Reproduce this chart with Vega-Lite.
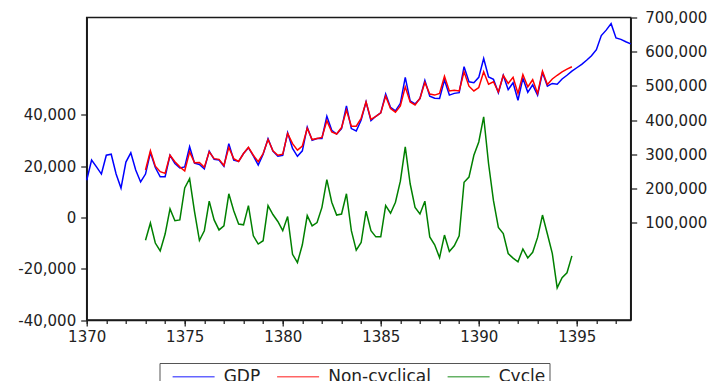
{
"$schema": "https://vega.github.io/schema/vega-lite/v6.json",
"width": 544, "height": 302.5,
"autosize": "none",
"padding": {"left": 86.7, "top": 17.5, "right": 81.3, "bottom": 61},
"background": "white",
"config": {
 "view": {"stroke": "#1a1a1a", "strokeWidth": 1.5},
 "axis": {"labelFont": "DejaVu Sans", "labelFontSize": 15, "labelColor": "#222", "domainColor": "#1a1a1a", "tickColor": "#1a1a1a", "domainWidth": 1.5, "tickWidth": 1.2, "grid": false, "title": null, "labelFlush": false, "labelOverlap": false},
 "legend": {"orient": "none", "legendX": 72.8, "legendY": 345.5, "direction": "horizontal", "symbolType": "M-2.5,0H2.5", "symbolSize": 282, "symbolStrokeWidth": 1.6, "symbolOpacity": 0.6, "symbolOffset": 20.6, "labelOffset": 20.6, "labelFont": "DejaVu Sans", "labelFontSize": 17, "labelColor": "#222", "strokeColor": "#555", "fillColor": "white", "padding": 4, "columnPadding": 7.5, "title": null}
},
"data": {"values": [
{"t":1370,"s":"GDP","v":224000},{"t":1370.25,"s":"GDP","v":283000},{"t":1370.5,"s":"GDP","v":263000},{"t":1370.75,"s":"GDP","v":242000},
{"t":1371,"s":"GDP","v":297000},{"t":1371.25,"s":"GDP","v":300000},{"t":1371.5,"s":"GDP","v":242000},{"t":1371.75,"s":"GDP","v":201000},
{"t":1372,"s":"GDP","v":277000},{"t":1372.25,"s":"GDP","v":304000},{"t":1372.5,"s":"GDP","v":254000},{"t":1372.75,"s":"GDP","v":219000},
{"t":1373,"s":"GDP","v":242000},{"t":1373.25,"s":"GDP","v":305000},{"t":1373.5,"s":"GDP","v":261000},{"t":1373.75,"s":"GDP","v":234000},
{"t":1374,"s":"GDP","v":234000},{"t":1374.25,"s":"GDP","v":297000},{"t":1374.5,"s":"GDP","v":273000},{"t":1374.75,"s":"GDP","v":260000},
{"t":1375,"s":"GDP","v":263000},{"t":1375.25,"s":"GDP","v":322000},{"t":1375.5,"s":"GDP","v":274000},{"t":1375.75,"s":"GDP","v":270000},
{"t":1376,"s":"GDP","v":257000},{"t":1376.25,"s":"GDP","v":309000},{"t":1376.5,"s":"GDP","v":285000},{"t":1376.75,"s":"GDP","v":283000},
{"t":1377,"s":"GDP","v":265000},{"t":1377.25,"s":"GDP","v":331000},{"t":1377.5,"s":"GDP","v":283000},{"t":1377.75,"s":"GDP","v":279000},
{"t":1378,"s":"GDP","v":302000},{"t":1378.25,"s":"GDP","v":319000},{"t":1378.5,"s":"GDP","v":295000},{"t":1378.75,"s":"GDP","v":268000},
{"t":1379,"s":"GDP","v":300000},{"t":1379.25,"s":"GDP","v":345000},{"t":1379.5,"s":"GDP","v":309000},{"t":1379.75,"s":"GDP","v":294000},
{"t":1380,"s":"GDP","v":297000},{"t":1380.25,"s":"GDP","v":363000},{"t":1380.5,"s":"GDP","v":317000},{"t":1380.75,"s":"GDP","v":294000},
{"t":1381,"s":"GDP","v":310000},{"t":1381.25,"s":"GDP","v":379000},{"t":1381.5,"s":"GDP","v":341000},{"t":1381.75,"s":"GDP","v":346000},
{"t":1382,"s":"GDP","v":346000},{"t":1382.25,"s":"GDP","v":411000},{"t":1382.5,"s":"GDP","v":370000},{"t":1382.75,"s":"GDP","v":359000},
{"t":1383,"s":"GDP","v":375000},{"t":1383.25,"s":"GDP","v":441000},{"t":1383.5,"s":"GDP","v":375000},{"t":1383.75,"s":"GDP","v":368000},
{"t":1384,"s":"GDP","v":400000},{"t":1384.25,"s":"GDP","v":453000},{"t":1384.5,"s":"GDP","v":398000},{"t":1384.75,"s":"GDP","v":411000},
{"t":1385,"s":"GDP","v":421000},{"t":1385.25,"s":"GDP","v":476000},{"t":1385.5,"s":"GDP","v":437000},{"t":1385.75,"s":"GDP","v":427000},
{"t":1386,"s":"GDP","v":449000},{"t":1386.25,"s":"GDP","v":525000},{"t":1386.5,"s":"GDP","v":456000},{"t":1386.75,"s":"GDP","v":447000},
{"t":1387,"s":"GDP","v":463000},{"t":1387.25,"s":"GDP","v":516000},{"t":1387.5,"s":"GDP","v":470000},{"t":1387.75,"s":"GDP","v":464000},
{"t":1388,"s":"GDP","v":463000},{"t":1388.25,"s":"GDP","v":517000},{"t":1388.5,"s":"GDP","v":473000},{"t":1388.75,"s":"GDP","v":478000},
{"t":1389,"s":"GDP","v":480000},{"t":1389.25,"s":"GDP","v":556000},{"t":1389.5,"s":"GDP","v":512000},{"t":1389.75,"s":"GDP","v":509000},
{"t":1390,"s":"GDP","v":525000},{"t":1390.25,"s":"GDP","v":580000},{"t":1390.5,"s":"GDP","v":526000},{"t":1390.75,"s":"GDP","v":519000},
{"t":1391,"s":"GDP","v":480000},{"t":1391.25,"s":"GDP","v":531000},{"t":1391.5,"s":"GDP","v":489000},{"t":1391.75,"s":"GDP","v":509000},
{"t":1392,"s":"GDP","v":458000},{"t":1392.25,"s":"GDP","v":522000},{"t":1392.5,"s":"GDP","v":481000},{"t":1392.75,"s":"GDP","v":503000},
{"t":1393,"s":"GDP","v":473000},{"t":1393.25,"s":"GDP","v":539000},{"t":1393.5,"s":"GDP","v":499000},{"t":1393.75,"s":"GDP","v":507000},
{"t":1394,"s":"GDP","v":505000},{"t":1394.25,"s":"GDP","v":520000},{"t":1394.5,"s":"GDP","v":531000},{"t":1394.75,"s":"GDP","v":543000},
{"t":1395,"s":"GDP","v":553000},{"t":1395.25,"s":"GDP","v":563000},{"t":1395.5,"s":"GDP","v":575000},{"t":1395.75,"s":"GDP","v":588000},
{"t":1396,"s":"GDP","v":606000},{"t":1396.25,"s":"GDP","v":647000},{"t":1396.5,"s":"GDP","v":663000},{"t":1396.75,"s":"GDP","v":682000},
{"t":1397,"s":"GDP","v":640000},{"t":1397.25,"s":"GDP","v":636000},{"t":1397.5,"s":"GDP","v":629000},{"t":1397.75,"s":"GDP","v":623000},
{"t":1373,"s":"Non-cyclical","v":254000},{"t":1373.25,"s":"Non-cyclical","v":310000},{"t":1373.5,"s":"Non-cyclical","v":265000},{"t":1373.75,"s":"Non-cyclical","v":249000},
{"t":1374,"s":"Non-cyclical","v":244000},{"t":1374.25,"s":"Non-cyclical","v":297000},{"t":1374.5,"s":"Non-cyclical","v":278000},{"t":1374.75,"s":"Non-cyclical","v":263000},
{"t":1375,"s":"Non-cyclical","v":251000},{"t":1375.25,"s":"Non-cyclical","v":307000},{"t":1375.5,"s":"Non-cyclical","v":275000},{"t":1375.75,"s":"Non-cyclical","v":276000},
{"t":1376,"s":"Non-cyclical","v":262000},{"t":1376.25,"s":"Non-cyclical","v":307000},{"t":1376.5,"s":"Non-cyclical","v":287000},{"t":1376.75,"s":"Non-cyclical","v":285000},
{"t":1377,"s":"Non-cyclical","v":267000},{"t":1377.25,"s":"Non-cyclical","v":320000},{"t":1377.5,"s":"Non-cyclical","v":287000},{"t":1377.75,"s":"Non-cyclical","v":279000},
{"t":1378,"s":"Non-cyclical","v":302000},{"t":1378.25,"s":"Non-cyclical","v":320000},{"t":1378.5,"s":"Non-cyclical","v":297000},{"t":1378.75,"s":"Non-cyclical","v":278000},
{"t":1379,"s":"Non-cyclical","v":302000},{"t":1379.25,"s":"Non-cyclical","v":343000},{"t":1379.5,"s":"Non-cyclical","v":310000},{"t":1379.75,"s":"Non-cyclical","v":297000},
{"t":1380,"s":"Non-cyclical","v":300000},{"t":1380.25,"s":"Non-cyclical","v":361000},{"t":1380.5,"s":"Non-cyclical","v":331000},{"t":1380.75,"s":"Non-cyclical","v":312000},
{"t":1381,"s":"Non-cyclical","v":324000},{"t":1381.25,"s":"Non-cyclical","v":376000},{"t":1381.5,"s":"Non-cyclical","v":343000},{"t":1381.75,"s":"Non-cyclical","v":346000},
{"t":1382,"s":"Non-cyclical","v":349000},{"t":1382.25,"s":"Non-cyclical","v":398000},{"t":1382.5,"s":"Non-cyclical","v":365000},{"t":1382.75,"s":"Non-cyclical","v":359000},
{"t":1383,"s":"Non-cyclical","v":378000},{"t":1383.25,"s":"Non-cyclical","v":429000},{"t":1383.5,"s":"Non-cyclical","v":382000},{"t":1383.75,"s":"Non-cyclical","v":382000},
{"t":1384,"s":"Non-cyclical","v":405000},{"t":1384.25,"s":"Non-cyclical","v":453000},{"t":1384.5,"s":"Non-cyclical","v":402000},{"t":1384.75,"s":"Non-cyclical","v":411000},
{"t":1385,"s":"Non-cyclical","v":421000},{"t":1385.25,"s":"Non-cyclical","v":470000},{"t":1385.5,"s":"Non-cyclical","v":434000},{"t":1385.75,"s":"Non-cyclical","v":423000},
{"t":1386,"s":"Non-cyclical","v":441000},{"t":1386.25,"s":"Non-cyclical","v":497000},{"t":1386.5,"s":"Non-cyclical","v":453000},{"t":1386.75,"s":"Non-cyclical","v":444000},
{"t":1387,"s":"Non-cyclical","v":463000},{"t":1387.25,"s":"Non-cyclical","v":510000},{"t":1387.5,"s":"Non-cyclical","v":476000},{"t":1387.75,"s":"Non-cyclical","v":473000},
{"t":1388,"s":"Non-cyclical","v":478000},{"t":1388.25,"s":"Non-cyclical","v":528000},{"t":1388.5,"s":"Non-cyclical","v":485000},{"t":1388.75,"s":"Non-cyclical","v":487000},
{"t":1389,"s":"Non-cyclical","v":485000},{"t":1389.25,"s":"Non-cyclical","v":541000},{"t":1389.5,"s":"Non-cyclical","v":499000},{"t":1389.75,"s":"Non-cyclical","v":485000},
{"t":1390,"s":"Non-cyclical","v":495000},{"t":1390.25,"s":"Non-cyclical","v":541000},{"t":1390.5,"s":"Non-cyclical","v":505000},{"t":1390.75,"s":"Non-cyclical","v":512000},
{"t":1391,"s":"Non-cyclical","v":482000},{"t":1391.25,"s":"Non-cyclical","v":531000},{"t":1391.5,"s":"Non-cyclical","v":507000},{"t":1391.75,"s":"Non-cyclical","v":525000},
{"t":1392,"s":"Non-cyclical","v":478000},{"t":1392.25,"s":"Non-cyclical","v":533000},{"t":1392.5,"s":"Non-cyclical","v":497000},{"t":1392.75,"s":"Non-cyclical","v":518000},
{"t":1393,"s":"Non-cyclical","v":478000},{"t":1393.25,"s":"Non-cyclical","v":543000},{"t":1393.5,"s":"Non-cyclical","v":504000},{"t":1393.75,"s":"Non-cyclical","v":520000},
{"t":1394,"s":"Non-cyclical","v":531000},{"t":1394.25,"s":"Non-cyclical","v":541000},{"t":1394.5,"s":"Non-cyclical","v":549000},{"t":1394.75,"s":"Non-cyclical","v":556000},
{"t":1373,"s":"Cycle","v":-8900},{"t":1373.25,"s":"Cycle","v":-2200},{"t":1373.5,"s":"Cycle","v":-10000},{"t":1373.75,"s":"Cycle","v":-13100},
{"t":1374,"s":"Cycle","v":-6500},{"t":1374.25,"s":"Cycle","v":3300},{"t":1374.5,"s":"Cycle","v":-1300},{"t":1374.75,"s":"Cycle","v":-1000},
{"t":1375,"s":"Cycle","v":11500},{"t":1375.25,"s":"Cycle","v":15100},{"t":1375.5,"s":"Cycle","v":2200},{"t":1375.75,"s":"Cycle","v":-9000},
{"t":1376,"s":"Cycle","v":-5200},{"t":1376.25,"s":"Cycle","v":6300},{"t":1376.5,"s":"Cycle","v":-1000},{"t":1376.75,"s":"Cycle","v":-4900},
{"t":1377,"s":"Cycle","v":-3300},{"t":1377.25,"s":"Cycle","v":9200},{"t":1377.5,"s":"Cycle","v":2600},{"t":1377.75,"s":"Cycle","v":-2600},
{"t":1378,"s":"Cycle","v":-2900},{"t":1378.25,"s":"Cycle","v":4600},{"t":1378.5,"s":"Cycle","v":-7200},{"t":1378.75,"s":"Cycle","v":-10400},
{"t":1379,"s":"Cycle","v":-9100},{"t":1379.25,"s":"Cycle","v":4600},{"t":1379.5,"s":"Cycle","v":1100},{"t":1379.75,"s":"Cycle","v":-1600},
{"t":1380,"s":"Cycle","v":-5200},{"t":1380.25,"s":"Cycle","v":300},{"t":1380.5,"s":"Cycle","v":-14400},{"t":1380.75,"s":"Cycle","v":-17600},
{"t":1381,"s":"Cycle","v":-10700},{"t":1381.25,"s":"Cycle","v":700},{"t":1381.5,"s":"Cycle","v":-3300},{"t":1381.75,"s":"Cycle","v":-2000},
{"t":1382,"s":"Cycle","v":3900},{"t":1382.25,"s":"Cycle","v":14700},{"t":1382.5,"s":"Cycle","v":5900},{"t":1382.75,"s":"Cycle","v":900},
{"t":1383,"s":"Cycle","v":1300},{"t":1383.25,"s":"Cycle","v":9200},{"t":1383.5,"s":"Cycle","v":-5200},{"t":1383.75,"s":"Cycle","v":-12800},
{"t":1384,"s":"Cycle","v":-9800},{"t":1384.25,"s":"Cycle","v":2400},{"t":1384.5,"s":"Cycle","v":-5200},{"t":1384.75,"s":"Cycle","v":-7600},
{"t":1385,"s":"Cycle","v":-7600},{"t":1385.25,"s":"Cycle","v":4600},{"t":1385.5,"s":"Cycle","v":1600},{"t":1385.75,"s":"Cycle","v":5900},
{"t":1386,"s":"Cycle","v":14100},{"t":1386.25,"s":"Cycle","v":27500},{"t":1386.5,"s":"Cycle","v":13100},{"t":1386.75,"s":"Cycle","v":3900},
{"t":1387,"s":"Cycle","v":1300},{"t":1387.25,"s":"Cycle","v":6300},{"t":1387.5,"s":"Cycle","v":-7600},{"t":1387.75,"s":"Cycle","v":-10700},
{"t":1388,"s":"Cycle","v":-15700},{"t":1388.25,"s":"Cycle","v":-6900},{"t":1388.5,"s":"Cycle","v":-13300},{"t":1388.75,"s":"Cycle","v":-11100},
{"t":1389,"s":"Cycle","v":-7200},{"t":1389.25,"s":"Cycle","v":13700},{"t":1389.5,"s":"Cycle","v":15700},{"t":1389.75,"s":"Cycle","v":24200},
{"t":1390,"s":"Cycle","v":29400},{"t":1390.25,"s":"Cycle","v":39200},{"t":1390.5,"s":"Cycle","v":20900},{"t":1390.75,"s":"Cycle","v":6500},
{"t":1391,"s":"Cycle","v":-3900},{"t":1391.25,"s":"Cycle","v":-6300},{"t":1391.5,"s":"Cycle","v":-14100},{"t":1391.75,"s":"Cycle","v":-15900},
{"t":1392,"s":"Cycle","v":-17300},{"t":1392.25,"s":"Cycle","v":-12300},{"t":1392.5,"s":"Cycle","v":-15800},{"t":1392.75,"s":"Cycle","v":-13600},
{"t":1393,"s":"Cycle","v":-7800},{"t":1393.25,"s":"Cycle","v":900},{"t":1393.5,"s":"Cycle","v":-6500},{"t":1393.75,"s":"Cycle","v":-14000},
{"t":1394,"s":"Cycle","v":-27500},{"t":1394.25,"s":"Cycle","v":-23500},{"t":1394.5,"s":"Cycle","v":-21600},{"t":1394.75,"s":"Cycle","v":-15000}
]},
"layer": [
 {
  "transform": [{"filter": "datum.s !== 'Cycle'"}],
  "mark": {"type": "line", "strokeWidth": 1.5},
  "encoding": {
   "x": {"field": "t", "type": "quantitative", "scale": {"domain": [1370, 1397.75], "nice": false, "zero": false},
         "axis": {"orient": "bottom", "values": [1370, 1375, 1380, 1385, 1390, 1395], "format": "d", "tickSize": 6, "labelPadding": 3}},
   "y": {"field": "v", "type": "quantitative", "scale": {"domain": [-185000, 700000], "nice": false, "zero": false},
         "axis": {"orient": "right", "values": [100000, 200000, 300000, 400000, 500000, 600000, 700000], "format": ",d", "tickSize": 6, "labelPadding": 8}},
   "color": {"field": "s", "type": "nominal", "sort": ["GDP", "Non-cyclical", "Cycle"],
             "scale": {"domain": ["GDP", "Non-cyclical", "Cycle"], "range": ["#0000ff", "#ff0000", "#008000"]}}
  }
 },
 {
  "transform": [{"filter": "datum.s === 'Cycle'"}],
  "mark": {"type": "line", "strokeWidth": 1.5},
  "encoding": {
   "x": {"field": "t", "type": "quantitative",
         "axis": {"orient": "bottom", "values": [1370,1371,1372,1373,1374,1375,1376,1377,1378,1379,1380,1381,1382,1383,1384,1385,1386,1387,1388,1389,1390,1391,1392,1393,1394,1395,1396,1397], "labels": false, "domain": false, "tickSize": 3.5}},
   "y": {"field": "v", "type": "quantitative", "scale": {"domain": [-40000, 77900], "nice": false, "zero": false},
         "axis": {"orient": "left", "values": [-40000, -20000, 0, 20000, 40000], "format": ",d", "labelExpr": "replace(datum.label, '\u2212', '-')", "tickSize": 6, "labelPadding": 5}},
   "color": {"field": "s", "type": "nominal", "sort": ["GDP", "Non-cyclical", "Cycle"]}
  }
 }
],
"resolve": {"scale": {"y": "independent"}, "axis": {"x": "independent"}}
}
